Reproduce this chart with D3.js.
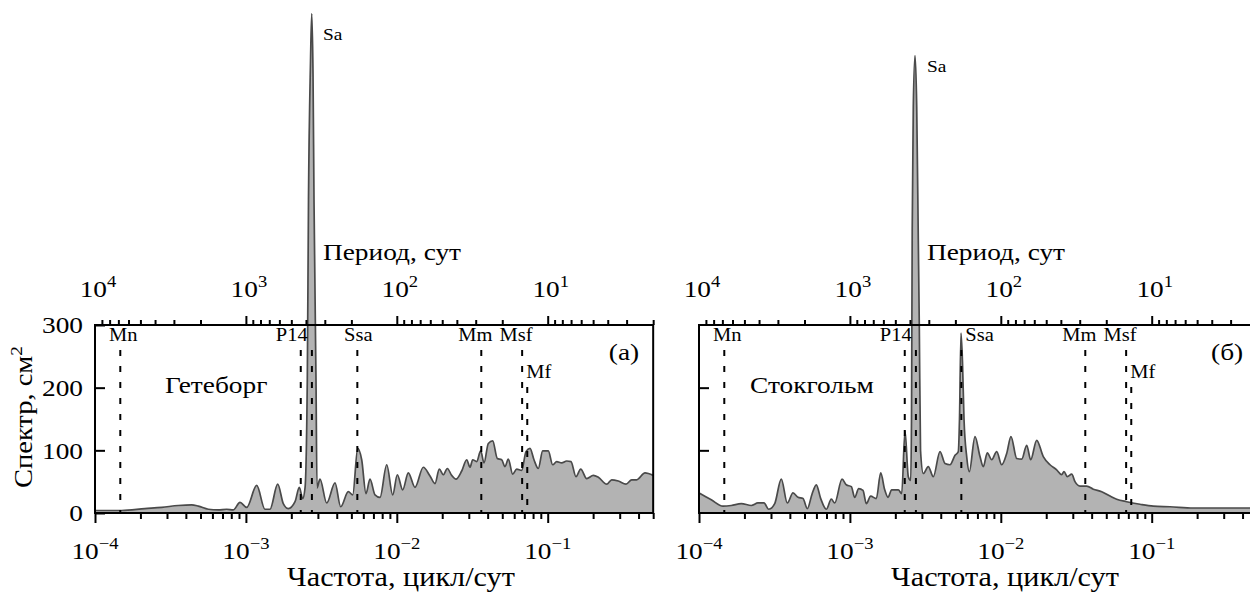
<!DOCTYPE html>
<html>
<head>
<meta charset="utf-8">
<script src="https://cdn.jsdelivr.net/npm/d3@7/dist/d3.min.js"></script>
<style>
body{margin:0;background:#fff;}
text{font-family:"Liberation Serif","Times New Roman",serif;fill:#000;}
</style>
</head>
<body>
<script>
//DATA - frequency (cycles/day) and spectrum (cm^2)
var gotFreq=[1.00e-4,1.50e-4,2.14e-4,2.77e-4,3.56e-4,4.37e-4,4.84e-4,5.64e-4,6.56e-4,7.46e-4,
  8.25e-4,9.14e-4,1.012e-3,1.179e-3,1.338e-3,1.444e-3,1.625e-3,1.769e-3,1.910e-3,2.116e-3,
  2.259e-3,2.379e-3,2.465e-3,2.552e-3,2.599e-3,2.680e-3,2.730e-3,2.785e-3,2.827e-3,2.915e-3,
  2.959e-3,3.098e-3,3.432e-3,3.895e-3,4.249e-3,4.770e-3,5.104e-3,5.507e-3,5.853e-3,6.250e-3,
  6.643e-3,7.171e-3,7.738e-3,8.574e-3,9.393e-3,1.008e-2,1.094e-2,1.192e-2,1.320e-2,1.498e-2,
  1.660e-2,1.791e-2,1.912e-2,2.033e-2,2.161e-2,2.311e-2,2.468e-2,2.692e-2,2.906e-2,3.056e-2,
  3.184e-2,3.384e-2,3.597e-2,3.783e-2,4.041e-2,4.320e-2,4.634e-2,4.957e-2,5.212e-2,5.482e-2,
  5.861e-2,6.231e-2,6.723e-2,7.180e-2,7.632e-2,8.112e-2,8.663e-2,9.267e-2,0.1009,0.1079,
  0.1147,0.1238,0.1336,0.1427,0.1540,0.1655,0.1814,0.2006,0.2165,0.2460,
  0.2656,0.2937,0.3303,0.3604,0.3890,0.4414,0.5];
var gotSpec=[4,4,7,9,12,13,11,6,5,6,
  5,17,9,44,6,6,46,15,7,18,
  41,23,40,212,500,720,797,700,500,212,
  40,54,16,48,10,34,29,103,85,31,
  54,29,25,77,29,61,37,64,41,73,
  59,47,70,61,71,60,54,67,85,73,
  85,82,99,80,111,115,87,85,74,86,
  62,70,68,98,103,85,71,99,99,77,
  82,80,83,82,58,70,55,60,57,46,
  53,51,46,53,53,64,60];

var stoFreq=[1.00e-4,1.206e-4,1.442e-4,1.637e-4,1.907e-4,2.222e-4,2.460e-4,2.696e-4,2.896e-4,3.175e-4,
  3.511e-4,3.848e-4,4.197e-4,4.530e-4,4.889e-4,5.221e-4,5.609e-4,5.988e-4,6.404e-4,6.978e-4,
  7.529e-4,7.930e-4,8.866e-4,9.465e-4,1.022e-3,1.076e-3,1.144e-3,1.221e-3,1.285e-3,1.373e-3,
  1.496e-3,1.600e-3,1.701e-3,1.789e-3,1.892e-3,2.093e-3,2.204e-3,2.318e-3,2.438e-3,2.529e-3,
  2.560e-3,2.588e-3,2.631e-3,2.701e-3,2.772e-3,2.840e-3,2.884e-3,2.938e-3,3.065e-3,3.307e-3,
  3.570e-3,3.955e-3,4.268e-3,4.606e-3,4.972e-3,5.229e-3,5.325e-3,5.449e-3,5.575e-3,5.704e-3,
  5.943e-3,6.184e-3,6.745e-3,7.281e-3,7.656e-3,8.136e-3,8.705e-3,9.393e-3,1.014e-2,1.094e-2,
  1.168e-2,1.275e-2,1.376e-2,1.485e-2,1.578e-2,1.729e-2,1.912e-2,2.118e-2,2.346e-2,2.533e-2,
  2.623e-2,2.759e-2,2.951e-2,3.102e-2,3.349e-2,3.710e-2,4.102e-2,4.664e-2,5.293e-2,5.861e-2,
  6.826e-2,8.366e-2,0.1025,0.1322,0.1887,0.2836,0.5];
var stoSpec=[32,21,11,12,15,12,16,16,6,15,
  54,16,32,25,23,7,30,45,23,6,
  22,16,54,45,42,25,39,36,15,27,
  23,64,37,25,37,37,31,131,58,52,
  150,450,648,730,648,435,297,100,63,74,
  58,98,79,77,92,98,150,287,240,150,
  90,66,122,90,74,96,85,98,77,95,
  122,87,86,108,85,116,90,77,69,61,
  66,58,62,50,43,43,38,34,27,22,
  18,14,11,10,8,8,8];

//tidal constituents (period, days)
var tideNames=["Mn","P14","Sa","Ssa","Mm","Msf","Mf"];
var tidePeriods=[6798.4,433,365.26,182.62,27.55,14.77,13.66];

var yTicks=[0,100,200,300];
var freqDecades=[1e-4,1e-3,1e-2,1e-1];
var periodDecades=[1e4,1e3,1e2,1e1];

//SVG VARIABLES
var width=1250, height=592;
var plotTop=325, plotBottom=513;   // plot frame in px
var decade=150.9;                  // px per decade on frequency axis
var SX=1.14;                       // the source font is wider than Times
var svg=d3.select("body").append("svg").attr("width",width).attr("height",height);

var panels=[
  {x0:95, freq:gotFreq, spec:gotSpec, name:"Гетеборг", nameDx:70, letter:"(а)", yLabels:true, saY:40, ssaRight:false},
  {x0:699, freq:stoFreq, spec:stoSpec, name:"Стокгольм", nameDx:51, letter:"(б)", yLabels:false, saY:72, ssaRight:true}
];

var y=d3.scaleLinear().domain([0,300]).range([plotBottom,plotTop]);

// label offsets relative to each dashed line
var tideLabel={
  Mn:{dx:3,anchor:"middle",y:341},
  P14:{dx:7,anchor:"end",y:341},
  Ssa:{dx:1,anchor:"middle",y:341},
  Mm:{dx:-6,anchor:"middle",y:341},
  Msf:{dx:-6,anchor:"middle",y:341},
  Mf:{dx:-1,anchor:"start",y:378}
};

// text stretched horizontally
function stext(g,x,yy,size,anchor,rot){
  return g.append("text")
    .attr("transform","translate("+x+","+yy+")"+(rot?" rotate("+rot+")":"")+" scale("+SX+",1)")
    .attr("text-anchor",anchor||"start").style("font-size",size+"px");
}

function powLabel(g,x,yb,base,exp,size){
  var t=stext(g,x,yb,size,"middle");
  t.append("tspan").text(base);
  t.append("tspan").attr("dy",-size*0.42).style("font-size",(size*0.68)+"px").text(exp);
  return t;
}

panels.forEach(function(p){
  var x1=p.x0+decade*Math.log10(0.5/1e-4);
  var x=d3.scaleLog().domain([1e-4,0.5]).range([p.x0,x1]);
  var per=d3.scaleLog().domain([1e4,2]).range([p.x0,x1]);
  var g=svg.append("g");
  var pts=p.freq.map(function(f,i){return {f:f,v:p.spec[i]};});

  // spectrum
  g.append("path").datum(pts)
    .attr("d",d3.area().x(function(d){return x(d.f);}).y0(y(0)).y1(function(d){return y(d.v);}).curve(d3.curveMonotoneX))
    .attr("fill","#b3b3b3");
  g.append("path").datum(pts)
    .attr("d",d3.line().x(function(d){return x(d.f);}).y(function(d){return y(d.v);}).curve(d3.curveMonotoneX))
    .attr("fill","none").attr("stroke","#4a4a4a").attr("stroke-width",1.7);

  // dashed tidal lines
  tideNames.forEach(function(n,i){
    var fx=x(1/tidePeriods[i]);
    var yt=(n=="Mf")?387:350;
    g.append("line").attr("x1",fx).attr("x2",fx).attr("y1",yt).attr("y2",plotBottom)
      .attr("stroke","#000").attr("stroke-width",2).attr("stroke-dasharray","6,10");
    if(n=="Sa"){
      stext(g,fx+11,p.saY,17,"start").text(n);
      return;
    }
    var L=tideLabel[n];
    var dx=L.dx, anc=L.anchor;
    if(n=="Ssa"&&p.ssaRight){dx=4;anc="start";}
    stext(g,fx+dx,L.y,18,anc).text(n);
  });

  // bottom axis (frequency)
  var minorF=[];
  freqDecades.forEach(function(d){for(var k=2;k<=9;k++){if(k*d<=0.5+1e-9)minorF.push(k*d);}});
  g.append("g").attr("transform","translate(0,"+plotBottom+")")
    .call(d3.axisBottom(x).tickValues(minorF).tickSize(6).tickFormat(""))
    .call(function(a){a.select(".domain").remove();a.selectAll("line").attr("stroke-width",2);});
  g.append("g").attr("transform","translate(0,"+plotBottom+")")
    .call(d3.axisBottom(x).tickValues(freqDecades).tickSize(10).tickFormat(""))
    .call(function(a){a.select(".domain").remove();a.selectAll("line").attr("stroke-width",2);});
  freqDecades.forEach(function(d){
    powLabel(g,x(d),559,"10","\u2212"+Math.round(-Math.log10(d)),24);
  });
  stext(g,p.x0+306,586,26.5,"middle").text("Частота, цикл/сут");

  // top axis (period)
  var minorP=[];
  [1e3,1e2,1e1,1].forEach(function(d){for(var k=2;k<=9;k++){if(k*d>=2&&k*d<1e4)minorP.push(k*d);}});
  g.append("g").attr("transform","translate(0,"+plotTop+")")
    .call(d3.axisTop(per).tickValues(minorP).tickSize(5).tickFormat(""))
    .call(function(a){a.select(".domain").remove();a.selectAll("line").attr("stroke-width",2);});
  g.append("g").attr("transform","translate(0,"+plotTop+")")
    .call(d3.axisTop(per).tickValues(periodDecades.slice(1)).tickSize(9).tickFormat(""))
    .call(function(a){a.select(".domain").remove();a.selectAll("line").attr("stroke-width",2);});
  periodDecades.forEach(function(d){
    powLabel(g,per(d)+3,297,"10",""+Math.round(Math.log10(d)),24);
  });
  stext(g,p.x0+297,260,24,"middle").text("Период, сут");

  // y axis
  var ya=g.append("g").attr("transform","translate("+p.x0+",0)")
    .call(d3.axisLeft(y).tickValues(p.yLabels?yTicks:[100,200]).tickSizeInner(-10).tickSizeOuter(0).tickPadding(10.5))
    .call(function(a){a.select(".domain").remove();a.selectAll("line").attr("stroke-width",2);});
  ya.selectAll("text").style("font-size","24px").style("font-family","'Liberation Serif',serif")
    .attr("transform","scale("+SX+",1)");
  if(!p.yLabels) ya.selectAll("text").remove();

  // frame
  g.append("rect").attr("x",p.x0).attr("y",plotTop).attr("width",x1-p.x0).attr("height",plotBottom-plotTop)
    .attr("fill","none").attr("stroke","#000").attr("stroke-width",2);

  // station and panel letter
  stext(g,p.x0+p.nameDx,393,24,"start").text(p.name);
  stext(g,x1-14,360,24,"end").text(p.letter);
});

// y title
var yt=stext(svg,32,417,25,"middle",-90);
yt.append("tspan").text("Спектр, см");
yt.append("tspan").attr("dy",-10).style("font-size","17px").text("2");
</script>
</body>
</html>
